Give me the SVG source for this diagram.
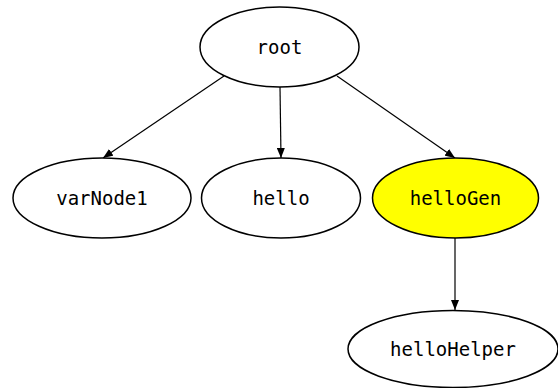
<svg xmlns="http://www.w3.org/2000/svg" width="558" height="388" viewBox="0 0 558 388">
<style>
.n ellipse{fill:#fff;stroke:#000;stroke-width:1.5}
.n text{font-family:"DejaVu Sans Mono","Liberation Mono",monospace;font-size:19px;fill:#000;text-anchor:middle;dominant-baseline:central}
.e line{stroke:#000;stroke-width:1.2;marker-end:url(#ah)}
</style>
<defs>
<marker id="ah" viewBox="0 0 10 8" refX="10" refY="4" markerWidth="10" markerHeight="8" markerUnits="userSpaceOnUse" orient="auto">
<path d="M0,0 L10,4 L0,8 Z" fill="#000"/>
</marker>
</defs>
<g class="e">
<line x1="224" y1="76" x2="103" y2="158"/>
<line x1="280" y1="87" x2="281" y2="158"/>
<line x1="337" y1="76" x2="455" y2="158"/>
<line x1="455" y1="238" x2="455" y2="310"/>
</g>
<g id="root" class="n"><ellipse cx="279.5" cy="47" rx="79.5" ry="40"/><text x="279.5" y="47">root</text></g>
<g id="varNode1" class="n"><ellipse cx="102" cy="198" rx="89" ry="40"/><text x="102" y="198">varNode1</text></g>
<g id="hello" class="n"><ellipse cx="281" cy="198" rx="79.5" ry="40"/><text x="281" y="198">hello</text></g>
<g id="helloGen" class="n"><ellipse cx="455.5" cy="198" rx="83" ry="40" style="fill:#ffff00"/><text x="455.5" y="198">helloGen</text></g>
<g id="helloHelper" class="n"><ellipse cx="453" cy="349" rx="105" ry="38.5"/><text x="453" y="349">helloHelper</text></g>
</svg>
